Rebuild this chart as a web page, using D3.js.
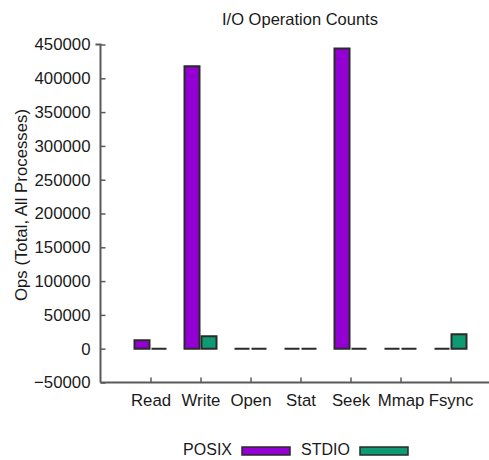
<!DOCTYPE html>
<html>
<head>
<meta charset="utf-8">
<script src="https://cdn.jsdelivr.net/npm/d3@7"></script>
<style>
  html, body { margin: 0; padding: 0; background: #fff; }
  svg { display: block; }
  text { font-family: "Liberation Sans", Arial, Helvetica, sans-serif; fill: #1a1a1a; }
</style>
</head>
<body>
<svg id="chart" width="489" height="460"></svg>
<script>
// I/O operation totals per call type
const categories = ["Read", "Write", "Open", "Stat", "Seek", "Mmap", "Fsync"];
const posixOps = [12500, 418000, 0, 0, 444000, 0, 0];
const stdioOps = [0, 18500, 0, 0, 0, 0, 21500];
const yTicks = [-50000, 0, 50000, 100000, 150000, 200000, 250000, 300000, 350000, 400000, 450000];
const seriesNames = ["POSIX", "STDIO"];
const seriesColors = ["#9400d3", "#0e9a72"];

const svg = d3.select("#chart");
const axisColor = "#5a5a5a";
const fontSize = 16.8;

// Scales: categories sit at 1..7 on a 0..8 axis
const x = d3.scaleLinear().domain([0, 8]).range([100.5, 500.5]);
const y = d3.scaleLinear().domain([-50000, 450000]).range([382.5, 44.5]);

// Title
svg.append("text")
  .attr("x", 300).attr("y", 25)
  .attr("text-anchor", "middle")
  .style("font-size", "16.5px")
  .text("I/O Operation Counts");

// Y axis (ticks pointing inwards)
const yAxis = d3.axisLeft(y).tickValues(yTicks).tickSize(-5).tickPadding(10).tickFormat(d3.format("d"));
const gy = svg.append("g").attr("transform", `translate(${x(0)},0)`).call(yAxis);
gy.select(".domain").attr("stroke", axisColor).attr("stroke-width", 2).attr("d", `M-5,${y(450000)}H0V${y(-50000)}`);
gy.selectAll(".tick line").attr("stroke", axisColor).attr("stroke-width", 1.5);
gy.selectAll(".tick text").style("font-size", fontSize + "px").attr("fill", "#1a1a1a")
  .attr("font-family", "Liberation Sans, Arial, sans-serif");

// X axis (ticks pointing inwards)
const xAxis = d3.axisBottom(x).tickValues(d3.range(1, 8)).tickSize(-5).tickPadding(12)
  .tickFormat(i => categories[i - 1]);
const gx = svg.append("g").attr("transform", `translate(0,${y(-50000)})`).call(xAxis);
gx.select(".domain").attr("stroke", axisColor).attr("stroke-width", 2).attr("d", `M${x(0)},0H${x(8)}`);
gx.selectAll(".tick line").attr("stroke", axisColor).attr("stroke-width", 1.5);
gx.selectAll(".tick text").style("font-size", fontSize + "px").attr("fill", "#1a1a1a")
  .attr("font-family", "Liberation Sans, Arial, sans-serif");

// Y axis title
svg.append("text")
  .attr("transform", `translate(27,${(108 + 302) / 2}) rotate(-90)`)
  .attr("text-anchor", "middle")
  .style("font-size", fontSize + "px")
  .text("Ops (Total, All Processes)");

// Bars: drawn as closed paths so zero values still show as a flat outline
const barW = 15;
function barPath(cx, v) {
  const y0 = y(0), y1 = y(v);
  return `M${cx},${y0}H${cx + barW}V${y1}H${cx}Z`;
}
const series = [posixOps, stdioOps];
series.forEach((vals, s) => {
  svg.append("g").selectAll("path")
    .data(vals)
    .join("path")
    .attr("d", (v, i) => barPath(s === 0 ? x(i + 1) - barW - 1 : x(i + 1) + 1, v))
    .attr("fill", seriesColors[s])
    .attr("stroke", "#2a2a2a")
    .attr("stroke-width", 2)
    .attr("stroke-linejoin", "miter");
});

// Legend
const legend = [
  { textEnd: 232, sw: 242 },
  { textEnd: 350, sw: 360 }
];
legend.forEach((l, s) => {
  svg.append("text")
    .attr("x", l.textEnd).attr("y", 455)
    .attr("text-anchor", "end")
    .style("font-size", "16px")
    .text(seriesNames[s]);
  svg.append("rect")
    .attr("x", l.sw).attr("y", 447)
    .attr("width", 48).attr("height", 8)
    .attr("fill", seriesColors[s])
    .attr("stroke", "#2a2a2a").attr("stroke-width", 1.5);
});
</script>
</body>
</html>
